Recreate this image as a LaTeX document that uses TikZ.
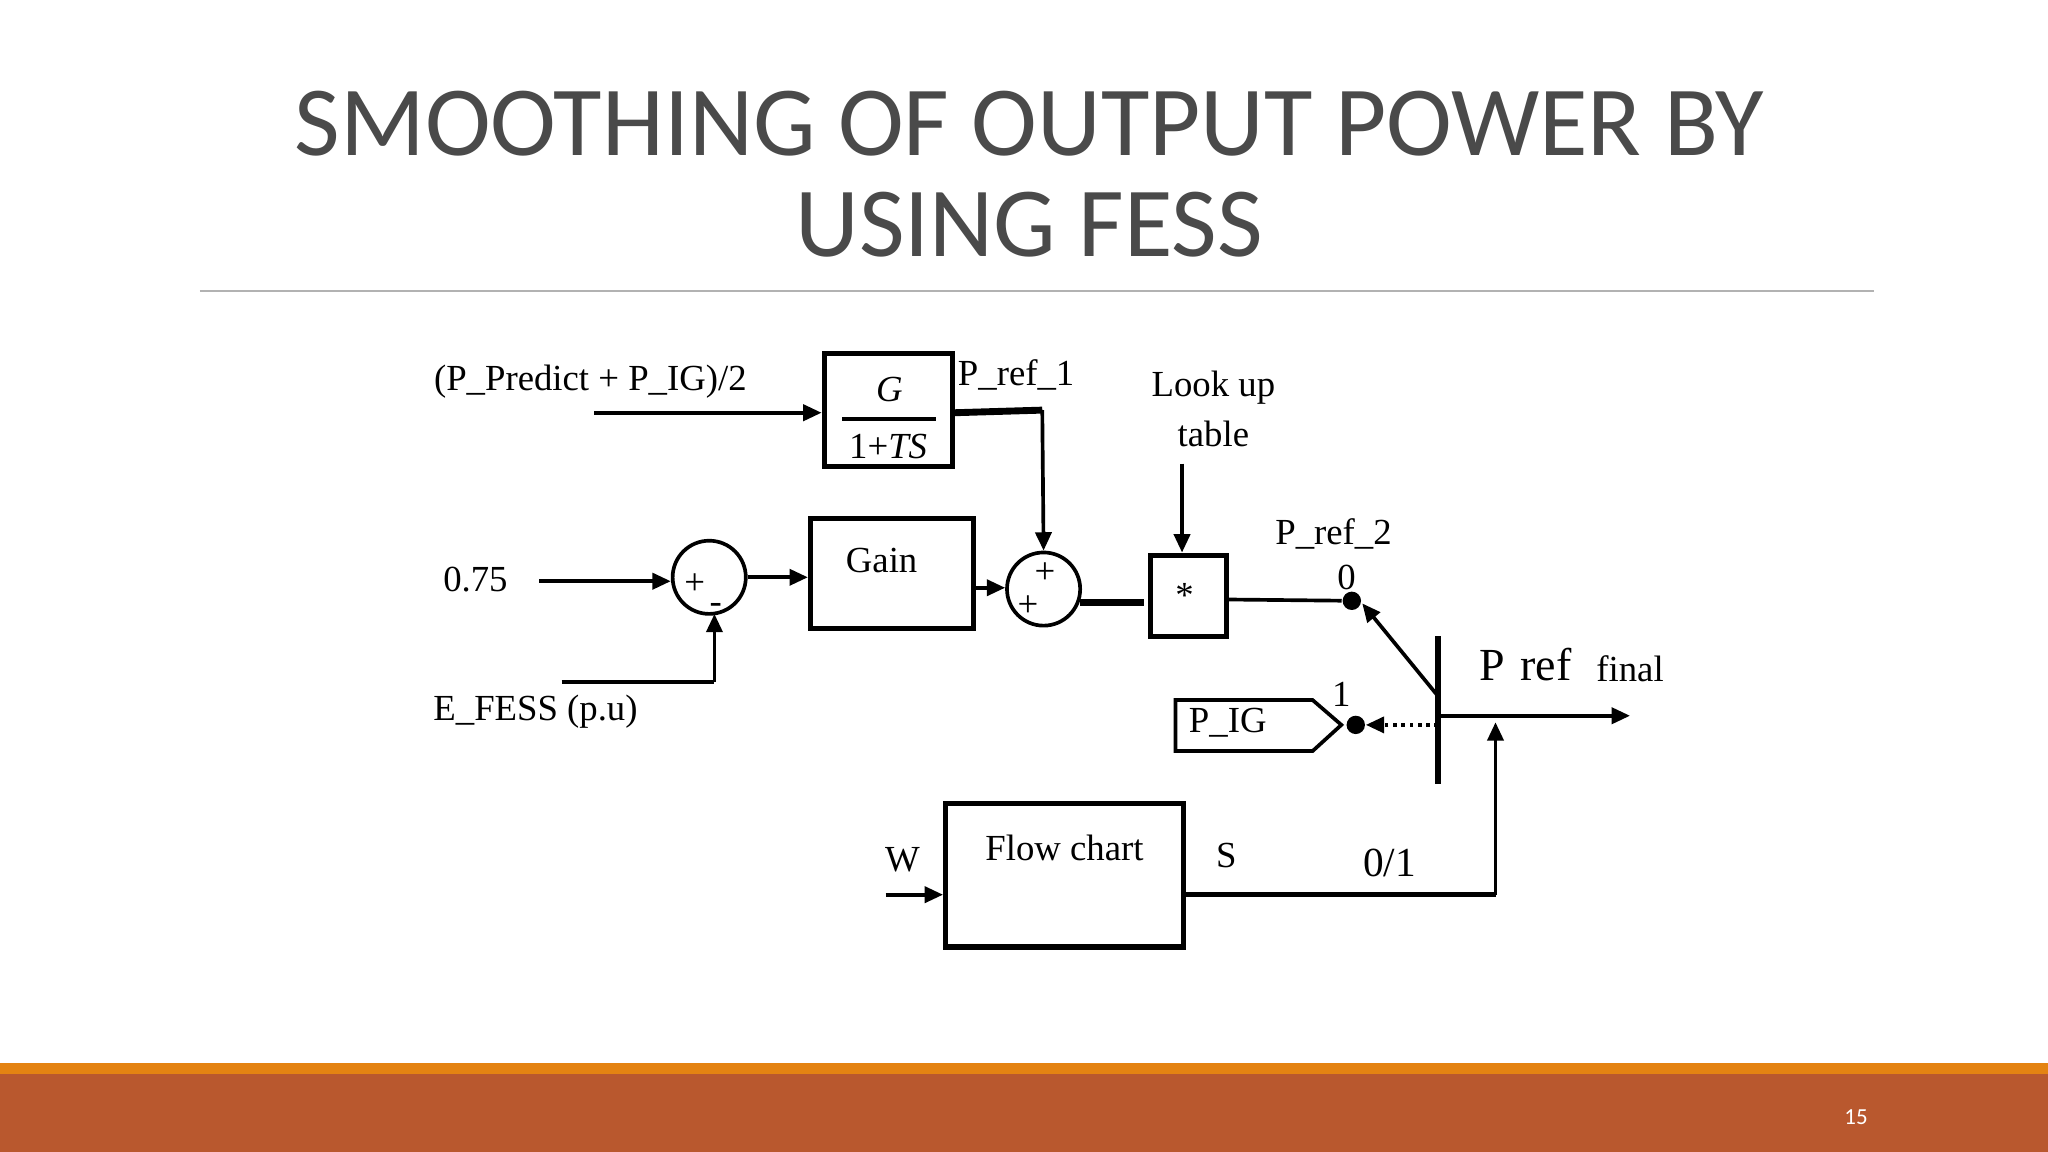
\documentclass[tikz,border=0pt]{standalone}
\usepackage{fontspec}
\setmainfont{Liberation Serif}
\newfontfamily\titlefont{Carlito}
\usetikzlibrary{arrows.meta}
\definecolor{tgray}{HTML}{4A4A4A}
\definecolor{band}{HTML}{B9582E}
\definecolor{bandtop}{HTML}{E48312}
\tikzset{
 blk/.style={draw,line width=1.1pt,inner sep=0pt},
 ln/.style={line width=0.8pt},
 arr/.style={ln,-{Triangle[length=4pt,width=3.5pt]}},
 lbl/.style={font=\fontsize{8}{9}\selectfont,inner sep=0pt},
 sumc/.style={draw,circle,line width=0.8pt,minimum size=0.56cm,inner sep=0pt},
 dot/.style={circle,fill,inner sep=0pt,minimum size=4pt}
}
\begin{document}
\begin{tikzpicture}[x=0.01cm,y=-0.01cm]
\useasboundingbox (0,0) rectangle (1568,882);
\fill[white] (0,0) rectangle (1568,882);
% title
\node[font=\titlefont\fontsize{21.6}{22}\selectfont,text=tgray,align=center] (title) at (788,133) {SMOOTHING OF OUTPUT POWER BY\\USING FESS};
\draw[gray!60,line width=0.5pt] (153,223) -- (1435,223);
% bottom bands
\fill[bandtop] (0,814) rectangle (1568,822);
\fill[band] (0,822) rectangle (1568,882);
\node[text=white,font=\fontsize{5}{6}\selectfont\titlefont] (pg) at (1421,855) {15};
% blocks
\node[blk,minimum width=0.98cm,minimum height=0.86cm] (G) at (680,314) {};
\node[lbl,font=\itshape\fontsize{8}{9}\selectfont] (Gn) at (681,298) {G};
\draw[ln] (645,321) -- (717,321);
\node[lbl] (Gd) at (680,342) {1+\textit{TS}};
\node[blk,minimum width=1.25cm,minimum height=0.84cm] (gain) at (683,439) {};
\node[lbl] (gaint) at (675,429) {Gain};
\node[sumc] (s1) at (543,442) {};
\node[lbl] (p1) at (532,447) {+};
\node[lbl] (m1) at (548,466) {-};
\node[sumc] (s2) at (799,451) {};
\node[lbl] (p2) at (800,439) {+};
\node[lbl] (p3) at (787,464) {+};
\node[blk,minimum width=0.58cm,minimum height=0.62cm] (mul) at (910,456) {};
\node[lbl] (star) at (907,456) {*};
\draw[line width=1.5pt] (1101,487) -- (1101,600);
\coordinate (bar) at (1101,548);
\draw[ln] (900,536) -- (1005,536) -- (1027,555) -- (1005,575) -- (900,575) -- cycle;
\node[lbl] (pig) at (940,553) {P\_IG};
\node[blk,minimum width=1.82cm,minimum height=1.10cm] (fc) at (815,670) {};
\node[lbl] (fct) at (815,649) {Flow chart};
% labels
\node[lbl] (inlab) at (452,292) {(P\_Predict + P\_IG)/2};
\node[lbl] (pr1) at (778,287) {P\_ref\_1};
\node[lbl,align=center] (lut) at (929,313) {Look up\\[2pt]table};
\node[lbl] (c075) at (364,444) {0.75};
\node[lbl] (efess) at (410,545) {E\_FESS (p.u)};
\node[lbl] (pr2) at (1021,409) {P\_ref\_2};
\node[lbl] (zero) at (1031,442) {0};
\node[lbl] (one) at (1027,532) {1};
\node[lbl,font=\fontsize{10}{12}\selectfont] (pref) at (1168,509) {P\,\,ref};
\node[lbl] (fin) at (1248,512) {final};
\node[lbl] (w) at (691,658) {W};
\node[lbl] (s) at (939,655) {S};
\node[lbl,font=\fontsize{9}{10}\selectfont] (ol) at (1064,661) {0/1};
% coordinates
\coordinate (a1) at (455,316);
\coordinate (a2) at (413,445);
\coordinate (e1) at (430,522);
\coordinate (e2) at (547,522);
\coordinate (l1) at (905,355);
\coordinate (d0) at (1035,460);
\coordinate (d1) at (1038,555);
\coordinate (ou) at (1248,548);
\coordinate (w1) at (678,685);
\coordinate (f2) at (1145,685);
\node[dot] (dot0) at (d0) {};
\node[dot] (dot1) at (d1) {};
% connectors
\draw[arr] (a1) -- (G.west|-a1);
\draw[line width=1.5pt] (G.east|-a1) -- (798,314);
\draw[arr] (798,314) -- (s2.north);
\draw[arr] (a2) -- (s1.west|-a2);
\draw[ln] (e1) -- (e2);
\draw[arr] (e2) -- (547,470);
\draw[arr] (s1.east) -- (gain.west|-s1.east);
\draw[arr] (gain.east|-0,450) -- (s2.west|-0,450);
\draw[line width=1.5pt] (827,461) -- (876,461);
\draw[arr] (l1) -- (mul.north-|l1);
\draw[ln] (mul.east|-0,459) -- (dot0);
\draw[arr] (1101,533) -- (1043,462);
\draw[ln,densely dotted,-{Triangle[length=4pt,width=3.5pt]}] (1101,555) -- (dot1);
\draw[arr] (bar) -- (ou);
\draw[arr] (w1) -- (fc.west|-w1);
\draw[line width=1.2pt] (fc.east|-w1) -- (f2);
\draw[arr] (f2) -- (1145,553);
\end{tikzpicture}
\end{document}
